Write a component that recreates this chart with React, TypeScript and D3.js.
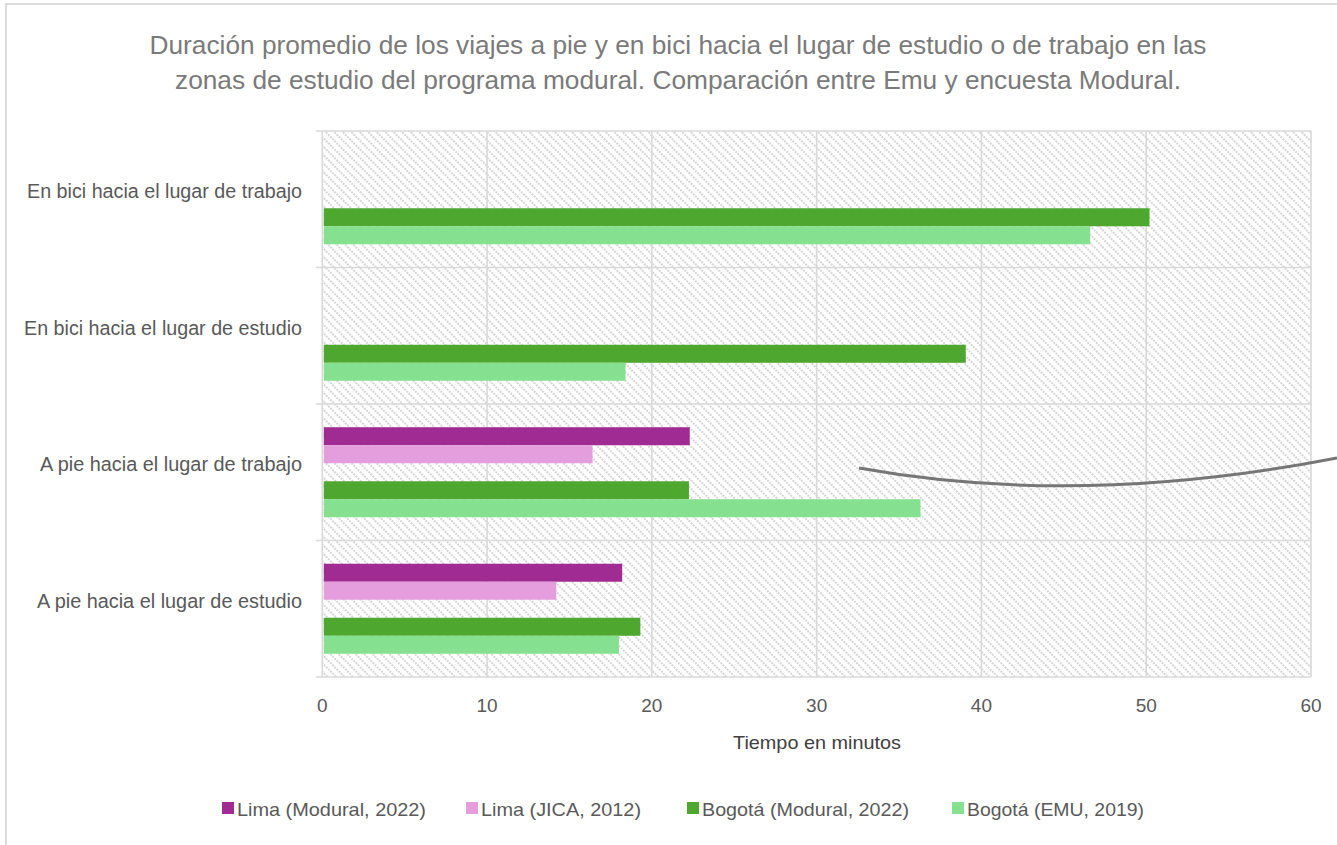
import React from "react";
import * as d3 from "d3";

const titleLines = [
  "Duración promedio de los viajes a pie y en bici hacia el lugar de estudio o de trabajo en las",
  "zonas de estudio del programa modural. Comparación entre Emu y encuesta Modural.",
];
const categories = [
  "En bici hacia el lugar de trabajo",
  "En bici hacia el lugar de estudio",
  "A pie hacia el lugar de trabajo",
  "A pie hacia el lugar de estudio",
];
const seriesNames = [
  "Lima (Modural, 2022)",
  "Lima (JICA, 2012)",
  "Bogotá (Modural, 2022)",
  "Bogotá (EMU, 2019)",
];
const seriesColors = ["#A02B93", "#E59EDD", "#4EA72E", "#85E190"];
// slot order inside a category (blank slot between Lima and Bogotá)
const slotOrder = ["s0", "s1", "gap", "s2", "s3"];
const limaModural = [null, null, 22.3, 18.2];
const limaJica = [null, null, 16.4, 14.2];
const bogotaModural = [50.2, 39.05, 22.25, 19.3];
const bogotaEmu = [46.6, 18.4, 36.3, 18.0];
const seriesValues = [limaModural, limaJica, bogotaModural, bogotaEmu];
const xTicks = [0, 10, 20, 30, 40, 50, 60];
const xTitle = "Tiempo en minutos";

const W = 1337;
const H = 845;
const plot = { left: 322.3, right: 1311, top: 131, bottom: 677 };
const FONT = "'Liberation Sans', Arial, sans-serif";
const GRID = "#d9d9d9";
const TEXT = "#595959";

const catLabelWidths = [275, 278, 262, 265];
const titleWidths = [1057, 1006];
const legendLayout = [
  { x: 222, w: 189 },
  { x: 466, w: 160 },
  { x: 687, w: 207 },
  { x: 952, w: 177 },
];

export default function App() {
  const x = d3.scaleLinear().domain([0, 60]).range([plot.left, plot.right]);
  const y = d3.scaleBand<string>().domain(categories).range([plot.top, plot.bottom]).padding(0);
  const inner = d3
    .scaleBand<string>()
    .domain(slotOrder)
    .range([0, y.bandwidth()])
    .paddingInner(0)
    .paddingOuter(1.29);

  const boundaries = categories.map((c) => y(c)!).concat([plot.bottom]);

  return (
    <svg
      width={W}
      height={H}
      style={{ position: "absolute", left: 0, top: 0, background: "#fff" }}
      fontFamily={FONT}
    >
      <defs>
        <pattern
          id="hatch"
          patternUnits="userSpaceOnUse"
          width="6"
          height="6"
          patternTransform="rotate(45)"
        >
          <rect width="6" height="6" fill="#fff" />
          <line x1="0" y1="1" x2="6" y2="1" stroke="#c9c9c9" strokeWidth="1.5" strokeDasharray="2,1" />
        </pattern>
      </defs>
      <rect x={0} y={0} width={W} height={H} fill="#fff" />
      {/* chart border */}
      <rect x={6} y={4} width={W + 20} height={H + 20} fill="none" stroke={GRID} strokeWidth={1.8} />

      {/* title */}
      {titleLines.map((t, i) => (
        <text
          key={i}
          x={678}
          y={54 + i * 35}
          textAnchor="middle"
          fontSize={26}
          fill="#7a7a7a"
          textLength={titleWidths[i]}
          lengthAdjust="spacingAndGlyphs"
        >
          {t}
        </text>
      ))}

      {/* plot background */}
      <rect
        x={plot.left}
        y={plot.top}
        width={plot.right - plot.left}
        height={plot.bottom - plot.top}
        fill="url(#hatch)"
      />

      {/* vertical gridlines */}
      {xTicks.map((t) => (
        <line key={t} x1={x(t)} x2={x(t)} y1={plot.top} y2={plot.bottom} stroke={GRID} strokeWidth={1.6} />
      ))}
      {/* horizontal category boundaries */}
      {boundaries.map((b, i) => (
        <line key={i} x1={316} x2={plot.right} y1={b} y2={b} stroke={GRID} strokeWidth={1.6} />
      ))}

      {/* bars */}
      {seriesValues.map((vals, si) =>
        vals.map((v, ci) =>
          v == null ? null : (
            <rect
              key={`${si}-${ci}`}
              x={x(0) + 1.5}
              y={y(categories[ci])! + inner(`s${si}`)!}
              width={x(v) - x(0) - 1.5}
              height={inner.bandwidth()}
              fill={seriesColors[si]}
            />
          )
        )
      )}

      {/* category labels */}
      {categories.map((c, i) => (
        <text
          key={c}
          x={302}
          y={y(c)! + y.bandwidth() / 2 - 1}
          textAnchor="end"
          fontSize={19.5}
          fill={TEXT}
          textLength={catLabelWidths[i]}
          lengthAdjust="spacingAndGlyphs"
        >
          {c}
        </text>
      ))}

      {/* x tick labels */}
      {xTicks.map((t) => (
        <text key={t} x={x(t)} y={712} textAnchor="middle" fontSize={19} fill={TEXT}>
          {t}
        </text>
      ))}
      <text
        x={817}
        y={749}
        textAnchor="middle"
        fontSize={19}
        fill="#404040"
        textLength={168}
        lengthAdjust="spacingAndGlyphs"
      >
        {xTitle}
      </text>

      {/* annotation curve */}
      <path d="M859,468 Q1080,508 1337,458" fill="none" stroke="#767676" strokeWidth={3} />

      {/* legend */}
      {seriesNames.map((n, i) => (
        <g key={n}>
          <rect x={legendLayout[i].x} y={802} width={12} height={12} fill={seriesColors[i]} />
          <text
            x={legendLayout[i].x + 15}
            y={815.5}
            fontSize={19}
            fill={TEXT}
            textLength={legendLayout[i].w}
            lengthAdjust="spacingAndGlyphs"
          >
            {n}
          </text>
        </g>
      ))}
    </svg>
  );
}
